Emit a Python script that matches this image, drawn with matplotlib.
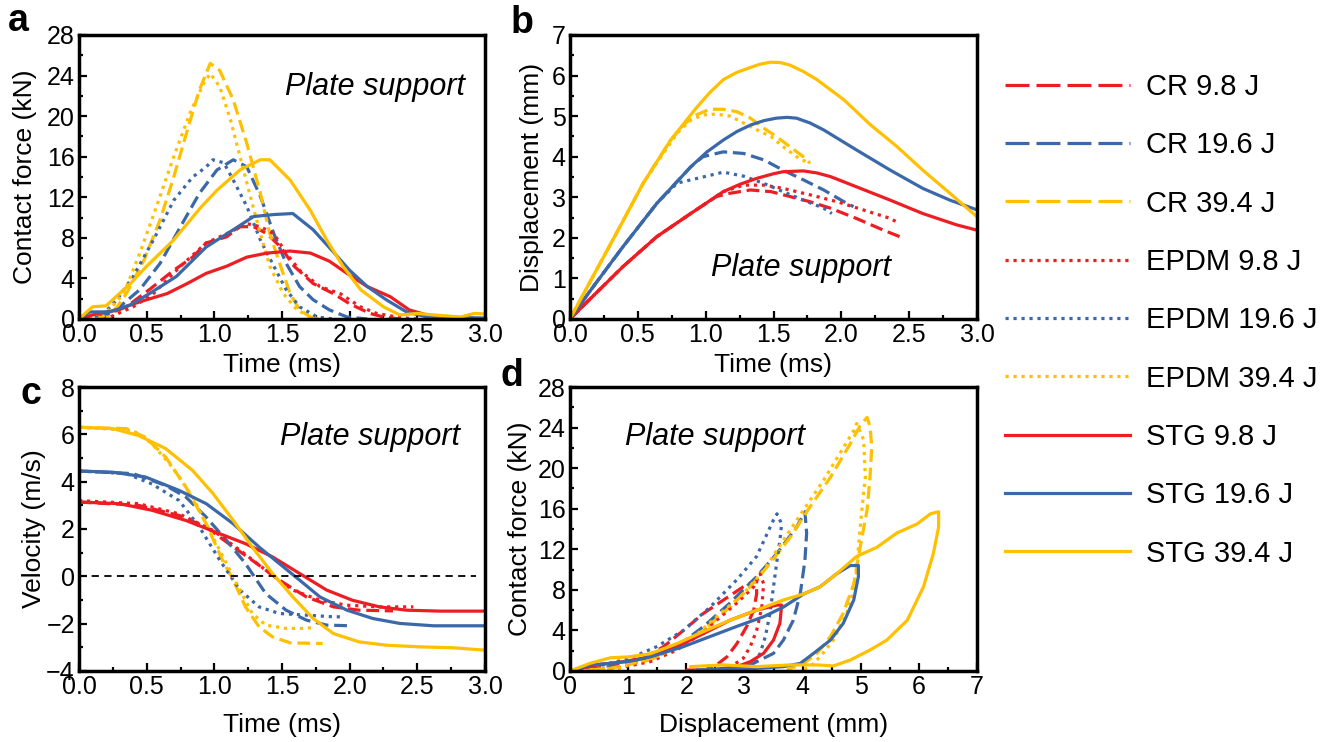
import matplotlib.pyplot as plt
from matplotlib.ticker import MultipleLocator
from matplotlib.lines import Line2D

plt.rcParams['font.family'] = ['Liberation Sans', 'DejaVu Sans']

# ---------------- data ----------------
# a: contact force (kN) vs time (ms)
a_cr98_t = [0, 0.16, 0.35, 0.52, 0.70, 0.84, 0.94, 1.09, 1.19, 1.29, 1.39, 1.49, 1.59, 1.73, 1.88, 2.00, 2.15, 2.25, 2.37]
a_cr98_f = [0, 0.2, 1.2, 2.9, 4.8, 6.1, 7.5, 8.1, 9.1, 9.1, 8.4, 7.1, 5.2, 3.5, 2.5, 1.5, 0.55, 0.2, 0]
a_cr196_t = [0, 0.16, 0.30, 0.45, 0.60, 0.75, 0.89, 1.02, 1.14, 1.24, 1.34, 1.44, 1.53, 1.63, 1.73, 1.85, 1.98, 2.13]
a_cr196_f = [0, 0.2, 1.2, 2.9, 5.5, 9.1, 12.4, 14.7, 15.7, 15.0, 12.1, 8.4, 5.5, 3.2, 1.9, 0.9, 0.2, 0]
a_cr394_t = [0, 0.23, 0.35, 0.48, 0.60, 0.70, 0.80, 0.89, 0.97, 1.04, 1.14, 1.24, 1.34, 1.41, 1.49, 1.56, 1.63, 1.71, 1.78]
a_cr394_f = [0, 0.2, 2.5, 5.8, 9.8, 14.0, 18.6, 22.6, 25.2, 24.5, 21.6, 17.3, 12.4, 8.4, 5.2, 2.5, 0.9, 0.2, 0]
a_ep98_t = [0, 0.23, 0.40, 0.55, 0.75, 0.94, 1.09, 1.24, 1.34, 1.44, 1.53, 1.63, 1.78, 1.93, 2.08, 2.20, 2.37, 2.50]
a_ep98_f = [0, 0.2, 1.2, 2.5, 5.2, 7.5, 8.4, 9.4, 9.1, 8.4, 6.5, 4.8, 3.2, 2.5, 1.2, 0.55, 0.15, 0]
a_ep196_t = [0, 0.16, 0.28, 0.40, 0.55, 0.70, 0.84, 0.94, 0.99, 1.07, 1.14, 1.24, 1.34, 1.44, 1.53, 1.63, 1.76, 1.88]
a_ep196_f = [0, 0.2, 1.9, 4.2, 7.8, 11.7, 14.0, 15.0, 15.7, 15.4, 13.7, 11.1, 7.8, 5.2, 2.9, 1.2, 0.2, 0]
a_ep394_t = [0, 0.16, 0.33, 0.45, 0.57, 0.70, 0.82, 0.92, 0.97, 1.04, 1.12, 1.19, 1.26, 1.34, 1.41, 1.51, 1.61, 1.71, 1.78]
a_ep394_f = [0, 0, 2.5, 6.5, 11.0, 16.0, 20.3, 23.2, 24.2, 22.9, 19.6, 16.0, 12.4, 8.4, 5.2, 2.5, 0.9, 0.2, 0]
a_stg98_t = [0, 0.10, 0.28, 0.45, 0.65, 0.80, 0.94, 1.09, 1.24, 1.39, 1.56, 1.71, 1.85, 1.98, 2.13, 2.30, 2.44, 2.57, 2.74, 3.0]
a_stg98_f = [0, 0.4, 0.9, 1.7, 2.5, 3.5, 4.5, 5.2, 6.1, 6.5, 6.7, 6.5, 5.7, 4.5, 3.2, 2.2, 0.9, 0.4, 0.15, 0]
a_stg196_t = [0, 0.08, 0.23, 0.38, 0.52, 0.72, 0.94, 1.14, 1.29, 1.44, 1.58, 1.73, 1.88, 2.00, 2.13, 2.27, 2.42, 2.57, 3.0]
a_stg196_f = [0, 0.7, 0.7, 1.4, 2.5, 4.2, 7.1, 8.8, 10.1, 10.3, 10.4, 8.8, 6.6, 4.8, 3.2, 1.9, 0.7, 0.2, 0.1]
a_stg394_t = [0, 0.10, 0.20, 0.38, 0.50, 0.70, 0.90, 1.02, 1.19, 1.34, 1.41, 1.56, 1.71, 1.83, 1.95, 2.08, 2.25, 2.37, 2.50, 2.62, 2.82, 2.92, 3.0]
a_stg394_f = [0, 1.2, 1.3, 3.5, 5.2, 7.8, 11.0, 12.7, 14.7, 15.7, 15.7, 13.7, 10.7, 7.8, 5.2, 2.9, 1.2, 0.4, 0.55, 0.4, 0.2, 0.55, 0.5]

# b: displacement (mm) vs time (ms)
b_cr98_t = [0, 0.15, 0.39, 0.64, 0.89, 1.08, 1.18, 1.33, 1.48, 1.62, 1.77, 1.92, 2.11, 2.31, 2.43]
b_cr98_d = [0, 0.5, 1.29, 2.03, 2.6, 3.02, 3.1, 3.18, 3.14, 3.02, 2.89, 2.73, 2.48, 2.19, 2.03]
b_cr196_t = [0, 0.15, 0.39, 0.64, 0.89, 0.98, 1.13, 1.28, 1.43, 1.57, 1.72, 1.87, 2.02, 2.09]
b_cr196_d = [0, 0.7, 1.78, 2.85, 3.75, 4.0, 4.12, 4.08, 3.92, 3.67, 3.43, 3.18, 2.89, 2.77]
b_cr394_t = [0, 0.15, 0.34, 0.54, 0.74, 0.84, 0.93, 1.03, 1.13, 1.23, 1.33, 1.43, 1.52, 1.62, 1.72, 1.77]
b_cr394_d = [0, 0.93, 2.1, 3.35, 4.4, 4.8, 5.03, 5.17, 5.17, 5.11, 4.95, 4.7, 4.5, 4.25, 4.0, 3.84]
b_ep98_t = [0, 0.15, 0.39, 0.64, 0.89, 1.13, 1.28, 1.43, 1.57, 1.77, 1.97, 2.16, 2.36, 2.42]
b_ep98_d = [0, 0.5, 1.29, 2.03, 2.6, 3.14, 3.3, 3.3, 3.22, 3.06, 2.89, 2.69, 2.48, 2.37]
b_ep196_t = [0, 0.15, 0.39, 0.64, 0.79, 0.98, 1.13, 1.28, 1.43, 1.57, 1.72, 1.87, 1.93]
b_ep196_d = [0, 0.7, 1.78, 2.85, 3.35, 3.5, 3.62, 3.52, 3.34, 3.14, 2.93, 2.73, 2.6]
b_ep394_t = [0, 0.15, 0.34, 0.54, 0.79, 0.89, 0.98, 1.08, 1.18, 1.28, 1.38, 1.48, 1.57, 1.67, 1.76]
b_ep394_d = [0, 0.93, 2.1, 3.35, 4.58, 4.9, 5.03, 5.05, 5.0, 4.83, 4.66, 4.5, 4.25, 4.0, 3.84]
b_stg98_t = [0, 0.15, 0.39, 0.64, 0.89, 1.13, 1.26, 1.38, 1.50, 1.57, 1.72, 1.82, 1.92, 2.11, 2.36, 2.60, 2.85, 3.0]
b_stg98_d = [0, 0.5, 1.29, 2.03, 2.6, 3.14, 3.33, 3.47, 3.58, 3.63, 3.65, 3.6, 3.51, 3.26, 2.93, 2.6, 2.32, 2.19]
b_stg196_t = [0, 0.15, 0.39, 0.64, 0.89, 1.01, 1.13, 1.23, 1.33, 1.43, 1.52, 1.60, 1.67, 1.77, 1.87, 2.11, 2.36, 2.60, 2.80, 3.0]
b_stg196_d = [0, 0.7, 1.78, 2.85, 3.75, 4.12, 4.41, 4.62, 4.78, 4.89, 4.95, 4.97, 4.95, 4.83, 4.66, 4.17, 3.67, 3.22, 2.93, 2.69]
b_stg394_t = [0, 0.15, 0.34, 0.54, 0.74, 0.93, 1.03, 1.13, 1.23, 1.33, 1.40, 1.48, 1.55, 1.62, 1.72, 1.82, 2.02, 2.21, 2.41, 2.60, 2.80, 3.0]
b_stg394_d = [0, 0.93, 2.1, 3.35, 4.4, 5.2, 5.58, 5.9, 6.08, 6.2, 6.28, 6.33, 6.32, 6.26, 6.1, 5.9, 5.4, 4.8, 4.25, 3.67, 3.1, 2.52]

# c: velocity (m/s) vs time (ms)
c_cr98_t = [0, 0.44, 0.74, 0.94, 1.14, 1.28, 1.48, 1.68, 1.88, 2.07, 2.32]
c_cr98_v = [3.14, 3.0, 2.57, 2.08, 1.24, 0.68, -0.16, -0.87, -1.29, -1.43, -1.46]
c_cr196_t = [0, 0.40, 0.64, 0.79, 0.94, 1.09, 1.23, 1.38, 1.53, 1.68, 1.83, 2.01]
c_cr196_v = [4.45, 4.34, 3.84, 3.35, 2.5, 1.52, 0.54, -0.73, -1.43, -1.85, -2.06, -2.09]
c_cr394_t = [0, 0.35, 0.49, 0.64, 0.79, 0.94, 1.06, 1.14, 1.23, 1.33, 1.43, 1.56, 1.80]
c_cr394_v = [6.3, 6.24, 5.88, 5.04, 3.77, 2.22, 0.68, -0.16, -1.29, -2.13, -2.56, -2.81, -2.84]
c_ep98_t = [0, 0.44, 0.74, 0.99, 1.19, 1.38, 1.58, 1.78, 1.98, 2.22, 2.47]
c_ep98_v = [3.2, 3.07, 2.64, 1.94, 1.1, 0.26, -0.58, -1.01, -1.22, -1.29, -1.29]
c_ep196_t = [0, 0.35, 0.54, 0.74, 0.89, 1.04, 1.19, 1.33, 1.48, 1.68, 1.88, 1.95]
c_ep196_v = [4.45, 4.34, 3.9, 3.2, 2.08, 0.68, -0.58, -1.29, -1.57, -1.64, -1.71, -1.71]
c_ep394_t = [0, 0.40, 0.54, 0.69, 0.84, 0.99, 1.09, 1.19, 1.28, 1.38, 1.53, 1.68, 1.75]
c_ep394_v = [6.3, 6.16, 5.6, 4.61, 3.35, 1.66, 0.54, -0.58, -1.57, -2.06, -2.2, -2.2, -2.13]
c_stg98_t = [0, 0.30, 0.54, 0.79, 1.04, 1.23, 1.43, 1.63, 1.83, 2.02, 2.22, 2.42, 2.67, 3.0]
c_stg98_v = [3.14, 3.07, 2.79, 2.36, 1.8, 1.38, 0.82, 0.12, -0.58, -1.01, -1.29, -1.43, -1.47, -1.47]
c_stg196_t = [0, 0.25, 0.49, 0.74, 0.94, 1.14, 1.33, 1.48, 1.63, 1.78, 1.98, 2.17, 2.37, 2.62, 3.0]
c_stg196_v = [4.45, 4.4, 4.2, 3.63, 3.07, 2.22, 1.24, 0.54, -0.16, -0.87, -1.43, -1.78, -1.99, -2.09, -2.09]
c_stg394_t = [0, 0.25, 0.44, 0.64, 0.84, 0.99, 1.14, 1.28, 1.43, 1.58, 1.73, 1.88, 2.07, 2.27, 2.52, 2.77, 3.0]
c_stg394_v = [6.3, 6.24, 5.95, 5.4, 4.47, 3.5, 2.36, 1.24, 0.12, -0.87, -1.78, -2.42, -2.77, -2.91, -2.98, -3.02, -3.12]

# d: contact force (kN) vs displacement (mm)
d_cr98_x = [0, 0.69, 1.26, 1.61, 1.95, 2.30, 2.64, 2.98, 3.21, 3.21, 3.16, 3.04, 2.87, 2.70, 2.52, 2.35]
d_cr98_f = [0, 0.43, 1.25, 2.4, 4.0, 5.7, 7.0, 8.3, 9.0, 7.6, 6.0, 4.4, 2.7, 1.4, 0.6, 0.26]
d_cr196_x = [0, 0.80, 1.38, 1.84, 2.30, 2.75, 3.21, 3.56, 3.90, 4.04, 4.07, 4.04, 3.96, 3.84, 3.67, 3.50, 3.27, 3.10, 2.87]
d_cr196_f = [0, 0.43, 1.25, 2.4, 4.4, 6.7, 9.3, 11.6, 14.2, 15.7, 13.6, 10.9, 7.6, 5.0, 3.05, 1.74, 1.08, 0.6, 0.26]
d_cr394_x = [0, 0.69, 1.38, 1.84, 2.30, 2.75, 3.10, 3.44, 3.79, 4.13, 4.48, 4.82, 4.99, 5.11, 5.16, 5.19, 5.16, 5.11, 4.99, 4.88, 4.70, 4.48, 4.25, 4.02, 3.73]
d_cr394_f = [0, 0.26, 1.08, 2.4, 4.0, 6.3, 8.3, 10.6, 13.2, 16.2, 19.1, 22.4, 24.2, 25.0, 24.1, 22.1, 19.1, 15.9, 12.2, 8.6, 5.7, 3.4, 1.74, 0.75, 0.1]
d_ep98_x = [0, 0.80, 1.38, 1.84, 2.18, 2.52, 2.87, 3.16, 3.27, 3.33, 3.30, 3.21, 3.10, 2.98, 2.81, 2.64]
d_ep98_f = [0, 0.26, 0.92, 2.07, 3.4, 5.0, 6.7, 8.3, 9.6, 8.6, 6.3, 4.0, 2.4, 1.25, 0.6, 0.26]
d_ep196_x = [0, 0.57, 1.03, 1.49, 1.95, 2.41, 2.87, 3.21, 3.50, 3.56, 3.64, 3.61, 3.56, 3.50, 3.44, 3.36, 3.27, 3.16, 2.98]
d_ep196_f = [0, 0.6, 1.25, 2.4, 4.0, 6.3, 9.0, 11.3, 14.9, 15.5, 14.5, 12.9, 10.9, 8.3, 5.7, 3.4, 1.74, 0.75, 0.26]
d_ep394_x = [0, 0.80, 1.49, 2.07, 2.52, 2.98, 3.33, 3.67, 4.02, 4.36, 4.71, 4.88, 4.93, 5.05, 5.08, 5.02, 4.96, 4.91, 4.76, 4.53, 4.30, 4.13, 3.96]
d_ep394_f = [0, 0.26, 1.4, 3.05, 5.35, 7.6, 9.9, 12.9, 15.9, 18.8, 22.1, 23.7, 24.4, 22.8, 19.1, 15.9, 12.2, 8.6, 5.7, 3.05, 1.4, 0.43, 0]
d_stg98_x = [0, 0.46, 0.92, 1.38, 1.84, 2.30, 2.75, 3.21, 3.56, 3.64, 3.61, 3.50, 3.33, 3.10, 2.87, 2.64, 2.35, 2.01]
d_stg98_f = [0, 0.6, 0.92, 1.4, 2.4, 3.7, 5.0, 6.0, 6.5, 6.5, 4.7, 3.05, 1.74, 0.92, 0.43, 0.26, 0.1, 0.1]
d_stg196_x = [0, 0.34, 0.80, 1.15, 1.49, 1.95, 2.41, 2.87, 3.33, 3.67, 4.02, 4.30, 4.59, 4.82, 4.96, 4.96, 4.88, 4.70, 4.48, 4.19, 3.96, 3.67, 3.21, 2.64, 2.18]
d_stg196_f = [0, 0.6, 0.8, 1.08, 1.58, 2.4, 3.4, 4.4, 5.35, 6.3, 7.6, 8.3, 9.6, 10.4, 10.4, 9.3, 7.0, 4.7, 3.05, 1.74, 0.75, 0.43, 0.26, 0.16, 0.1]
d_stg394_x = [0, 0.34, 0.69, 1.03, 1.38, 1.84, 2.30, 2.75, 3.21, 3.67, 4.02, 4.30, 4.59, 4.93, 5.28, 5.62, 5.97, 6.20, 6.34, 6.34, 6.25, 6.08, 5.80, 5.45, 5.16, 4.82, 4.53, 4.25, 3.79, 3.21, 2.64, 2.30, 2.07]
d_stg394_f = [0, 0.75, 1.3, 1.4, 1.7, 2.7, 3.9, 5.0, 6.0, 7.0, 7.6, 8.3, 9.6, 11.3, 12.2, 13.6, 14.5, 15.5, 15.7, 14.2, 11.6, 8.3, 5.0, 3.05, 2.07, 1.08, 0.5, 0.6, 0.6, 0.43, 0.6, 0.5, 0.43]

labels = ['CR 9.8 J', 'CR 19.6 J', 'CR 39.4 J',
          'EPDM 9.8 J', 'EPDM 19.6 J', 'EPDM 39.4 J',
          'STG 9.8 J', 'STG 19.6 J', 'STG 39.4 J']

# ---------------- styles ----------------
RED, BLUE, YEL = '#EE1D23', '#3B68A8', '#FFC000'
colors = [RED, BLUE, YEL] * 3
styles = [(0, (4, 1.8))] * 3 + [(0, (1, 1.5))] * 3 + ['-'] * 3
leg_styles = [(0, (7.5, 2.2))] * 3 + [(0, (1, 1.5))] * 3 + ['-'] * 3

W, H = 1343, 742
fig = plt.figure(figsize=(W / 100, H / 100), dpi=100)


def box(l, t, r, b):
    return [l / W, 1 - b / H, (r - l) / W, (b - t) / H]


ax_a = fig.add_axes(box(79, 35, 485, 319))
ax_b = fig.add_axes(box(570, 35, 977, 319))
ax_c = fig.add_axes(box(79, 387, 485, 671))
ax_d = fig.add_axes(box(570, 387, 977, 671))

panel_data = {
    ax_a: [(a_cr98_t, a_cr98_f), (a_cr196_t, a_cr196_f), (a_cr394_t, a_cr394_f),
           (a_ep98_t, a_ep98_f), (a_ep196_t, a_ep196_f), (a_ep394_t, a_ep394_f),
           (a_stg98_t, a_stg98_f), (a_stg196_t, a_stg196_f), (a_stg394_t, a_stg394_f)],
    ax_b: [(b_cr98_t, b_cr98_d), (b_cr196_t, b_cr196_d), (b_cr394_t, b_cr394_d),
           (b_ep98_t, b_ep98_d), (b_ep196_t, b_ep196_d), (b_ep394_t, b_ep394_d),
           (b_stg98_t, b_stg98_d), (b_stg196_t, b_stg196_d), (b_stg394_t, b_stg394_d)],
    ax_c: [(c_cr98_t, c_cr98_v), (c_cr196_t, c_cr196_v), (c_cr394_t, c_cr394_v),
           (c_ep98_t, c_ep98_v), (c_ep196_t, c_ep196_v), (c_ep394_t, c_ep394_v),
           (c_stg98_t, c_stg98_v), (c_stg196_t, c_stg196_v), (c_stg394_t, c_stg394_v)],
    ax_d: [(d_cr98_x, d_cr98_f), (d_cr196_x, d_cr196_f), (d_cr394_x, d_cr394_f),
           (d_ep98_x, d_ep98_f), (d_ep196_x, d_ep196_f), (d_ep394_x, d_ep394_f),
           (d_stg98_x, d_stg98_f), (d_stg196_x, d_stg196_f), (d_stg394_x, d_stg394_f)],
}

for ax, series in panel_data.items():
    for (x, y), col, ls in zip(series, colors, styles):
        ax.plot(x, y, color=col, linestyle=ls, lw=2.3,
                solid_joinstyle='round', solid_capstyle='round')

ax_c.plot([0, 2.93], [0, 0], color='black', linestyle=(0, (4, 3)), lw=1.3)

TICK = 18
for ax in panel_data:
    for s in ax.spines.values():
        s.set_linewidth(2.5)
    ax.tick_params(which='both', direction='in', top=False, right=False,
                   labelsize=TICK, width=1.6, pad=3)
    ax.tick_params(which='major', length=6)
    ax.tick_params(which='minor', length=3)

for ax in (ax_a, ax_b, ax_c):
    ax.set_xlim(0, 3)
    ax.xaxis.set_minor_locator(MultipleLocator(0.25))
    ax.set_xticks([0, 0.5, 1, 1.5, 2, 2.5, 3])
    ax.set_xticklabels(['0.0', '0.5', '1.0', '1.5', '2.0', '2.5', '3.0'])

ax_a.set_ylim(0, 28)
ax_a.yaxis.set_major_locator(MultipleLocator(4))
ax_a.yaxis.set_minor_locator(MultipleLocator(2))
ax_b.set_ylim(0, 7)
ax_b.yaxis.set_major_locator(MultipleLocator(1))
ax_b.yaxis.set_minor_locator(MultipleLocator(0.5))
ax_c.set_ylim(-4, 8)
ax_c.yaxis.set_major_locator(MultipleLocator(2))
ax_c.yaxis.set_minor_locator(MultipleLocator(1))
ax_d.set_xlim(0, 7)
ax_d.xaxis.set_major_locator(MultipleLocator(1))
ax_d.xaxis.set_minor_locator(MultipleLocator(0.5))
ax_d.set_ylim(0, 28)
ax_d.yaxis.set_major_locator(MultipleLocator(4))
ax_d.yaxis.set_minor_locator(MultipleLocator(2))

LAB = 19
ax_a.set_xlabel('Time (ms)', fontsize=LAB, labelpad=4)
ax_b.set_xlabel('Time (ms)', fontsize=LAB, labelpad=4)
ax_c.set_xlabel('Time (ms)', fontsize=LAB, labelpad=10)
ax_d.set_xlabel('Displacement (mm)', fontsize=LAB, labelpad=10)
ax_a.set_ylabel('Contact force (kN)', fontsize=LAB, labelpad=7)
ax_b.set_ylabel('Displacement (mm)', fontsize=LAB, labelpad=6)
ax_c.set_ylabel('Velocity (m/s)', fontsize=LAB, labelpad=0)
ax_d.set_ylabel('Contact force (kN)', fontsize=LAB, labelpad=4)

txt = dict(fontsize=22, style='italic', va='center')
ax_a.text(0.951, 0.817, 'Plate support', transform=ax_a.transAxes, ha='right', **txt)
ax_b.text(0.568, 0.18, 'Plate support', transform=ax_b.transAxes, ha='center', **txt)
ax_c.text(0.938, 0.824, 'Plate support', transform=ax_c.transAxes, ha='right', **txt)
ax_d.text(0.356, 0.824, 'Plate support', transform=ax_d.transAxes, ha='center', **txt)

# panel letters, placed in figure pixels
for letter, px, py in (('a', 8, 21), ('b', 511, 23), ('c', 20, 394), ('d', 500, 376)):
    fig.text(px / W, 1 - py / H, letter, fontsize=27, fontweight='bold',
             va='center', ha='left')

handles = [Line2D([0], [0], color=c, linestyle=ls, lw=2.3) for c, ls in zip(colors, leg_styles)]
fig.legend(handles, labels, loc='upper left', bbox_to_anchor=(1005 / W, 1 - 73 / H),
           frameon=False, fontsize=21, handlelength=4.3, handletextpad=0.55,
           labelspacing=1.04, borderaxespad=0, borderpad=0)

fig.savefig('out.png', dpi=100)
